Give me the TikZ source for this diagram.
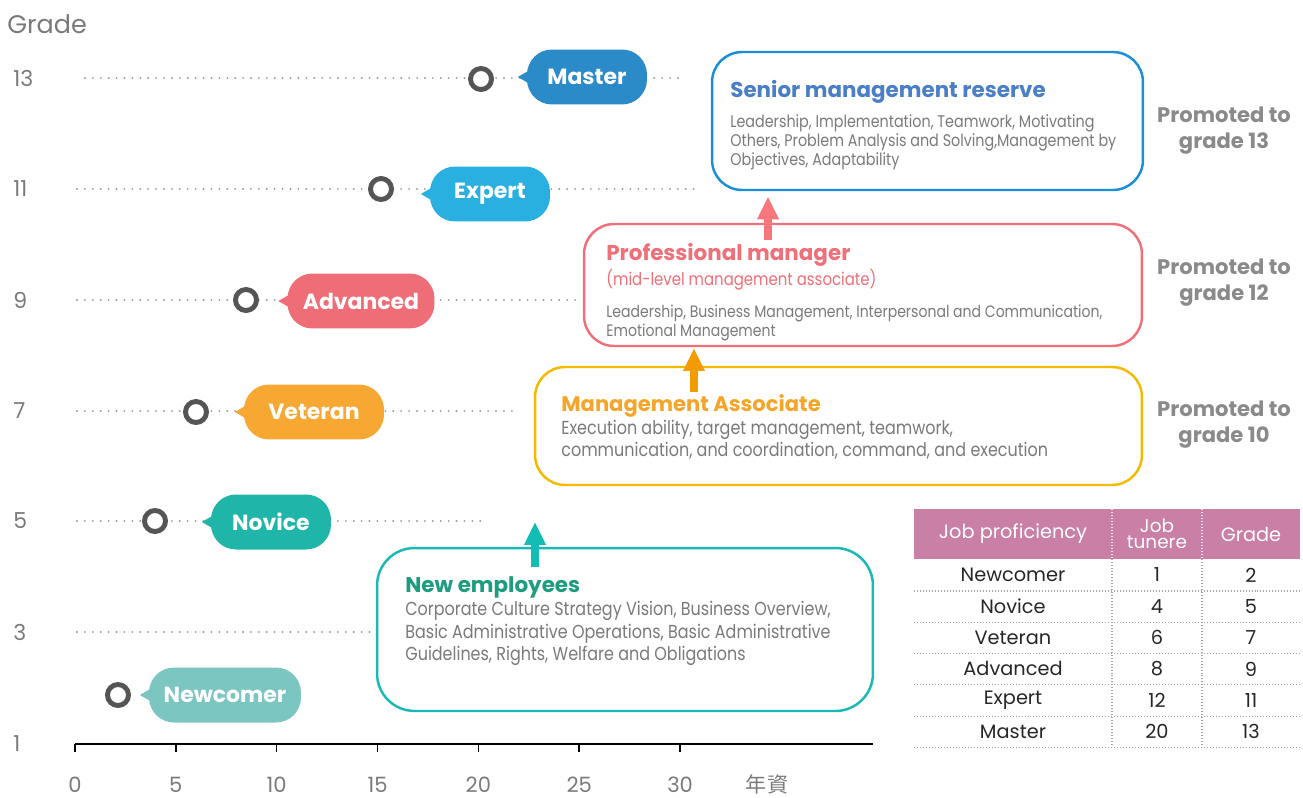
\documentclass[tikz,border=0pt]{standalone}
\usepackage{fontspec}
\setmainfont{Poppins}
\newfontfamily\narrowfont[FakeStretch=0.85]{Poppins}
\newfontfamily\cjkfont{Noto Sans CJK TC}
\usetikzlibrary{arrows.meta,positioning}
\definecolor{masterblue}{HTML}{2A8BC8}
\definecolor{expertblue}{HTML}{29AFE0}
\definecolor{advred}{HTML}{EF6D76}
\definecolor{vetorange}{HTML}{F6A832}
\definecolor{novteal}{HTML}{1FB5A9}
\definecolor{newteal}{HTML}{7CC6C2}
\definecolor{ringgray}{HTML}{555555}
\definecolor{dotgray}{HTML}{9A9A9A}
\definecolor{textgray}{HTML}{7A7A7A}
\definecolor{srmblue}{HTML}{1B8FD5}
\definecolor{srmtitle}{HTML}{4A7EC6}
\definecolor{pmred}{HTML}{F06F78}
\definecolor{magold}{HTML}{F5B900}
\definecolor{matitle}{HTML}{F5A62A}
\definecolor{nestroke}{HTML}{18B9B6}
\definecolor{netitle}{HTML}{1C9D7F}
\definecolor{tablehead}{HTML}{C97FA6}
\definecolor{promogray}{HTML}{8A8A8A}
\definecolor{arrowred}{HTML}{F8777C}
\definecolor{arroworange}{HTML}{F39C00}
\definecolor{arrowteal}{HTML}{13BDB3}

\begin{document}
\begin{tikzpicture}[x=0.02cm, y=-0.02cm,
  gridline/.style={draw=dotgray, line width=1.2pt, dash pattern=on 0pt off 4.5pt, line cap=round},
  ring/.style={circle, draw=ringgray, line width=2.8pt, fill=white, minimum size=0.42cm, inner sep=0pt},
  bubble/.style={rounded corners=0.5cm, minimum height=1.1cm, inner sep=0pt, text=white,
    font=\bfseries\fontsize{12.5}{14}\selectfont},
  box/.style={draw, line width=1.4pt, rounded corners=0.6cm, fill=white},
  title/.style={anchor=north west, inner sep=0pt, font=\bfseries\fontsize{12.2}{14}\selectfont},
  body/.style={anchor=north west, inner sep=0pt, align=left, text=textgray},
  promo/.style={align=center, text=promogray, font=\bfseries\fontsize{12}{14.7}\selectfont},
  axlabel/.style={text=textgray, inner sep=0pt, font=\fontsize{12.5}{14}\selectfont},
  tcell/.style={font=\fontsize{11}{13}\selectfont, text=black!85},
  tsep/.style={draw=gray!70, line width=0.6pt, dash pattern=on 0.5pt off 1.2pt},
  arr/.style={-{Triangle[width=11.5pt,length=13pt]}, line width=4.6pt}]
\useasboundingbox (0,0) rectangle (1303,798);

\node[axlabel, anchor=west, font=\fontsize{14.5}{16}\selectfont] (gradelbl) at (7,24) {Grade};
\foreach \g/\y in {13/78, 11/189, 9/300, 7/411, 5/521, 3/632, 1/744}
  \node[axlabel, anchor=west] (g\g) at (13,\y) {\g};

\foreach \xa/\xb/\y in {85/685/78, 77/697/189, 77/583/300, 77/518/411, 77/487/521, 77/375/632}
  \draw[gridline] (\xa,\y) -- (\xb,\y);

\draw[black, line width=0.9pt] (75,744) -- (873,744);
\foreach \v in {0,5,...,30} {
  \draw[black, line width=0.9pt] ({75+\v*20.17},744) -- ({75+\v*20.17},752);
  \node[axlabel, font=\fontsize{12}{14}\selectfont] (t\v) at ({75+\v*20.17},785) {\v};
}
\node[axlabel, font=\cjkfont\fontsize{12}{14}\selectfont] (years) at (767,784) {年資};

\foreach \nm/\lbl/\col/\bx/\by/\w/\rx/\ry in {
  master/Master/masterblue/587/77/2.4/481/79,
  expert/Expert/expertblue/490/194/2.4/381/189,
  advanced/Advanced/advred/361/301/2.94/246/300,
  veteran/Veteran/vetorange/314/412/2.8/196/412,
  novice/Novice/novteal/271/522/2.4/155/521,
  newcomer/Newcomer/newteal/225/695/3.04/118/695} {
  \node[ring] (ring-\nm) at (\rx,\ry) {};
  \node[bubble, fill=\col, minimum width=\w cm] (\nm) at (\bx,\by) {\lbl};
  \fill[\col] ([xshift=1pt,yshift=3.5pt]\nm.west) -- ++(-6pt,-3.5pt) -- ++(6pt,-3.5pt) -- cycle;
}

\node[box, draw=srmblue, minimum width=8.62cm, minimum height=2.76cm] (srm) at (927.5,121) {};
\node[box, draw=pmred, minimum width=11.16cm, minimum height=2.44cm] (pm) at (863,285) {};
\node[box, draw=magold, minimum width=12.14cm, minimum height=2.36cm] (ma) at (838.5,426) {};
\node[box, draw=nestroke, minimum width=9.92cm, minimum height=3.26cm, rounded corners=0.75cm] (ne) at (625,629.5) {};

\node[title, text=srmtitle] (srmT) at (730,80) {Senior management reserve};
\node[body, font=\narrowfont\fontsize{9.6}{10.8}\selectfont] (srmB) at (730,114)
  {Leadership, Implementation, Teamwork, Motivating\\Others, Problem Analysis and Solving,Management by\\Objectives, Adaptability};
\node[title, text=pmred] (pmT) at (606,243) {Professional manager};
\node[body, text=pmred, font=\narrowfont\fontsize{10}{12}\selectfont] (pmS) at (606,269) {(mid-level management associate)};
\node[body, font=\narrowfont\fontsize{9.4}{10.8}\selectfont] (pmB) at (606,305)
  {Leadership, Business Management, Interpersonal and Communication,\\Emotional Management};
\node[title, text=matitle, font=\bfseries\fontsize{12}{14}\selectfont] (maT) at (561,394) {Management Associate};
\node[body, font=\narrowfont\fontsize{10.7}{12.5}\selectfont] (maB) at (561,420)
  {Execution ability, target management, teamwork,\\communication, and coordination, command, and execution};
\node[title, text=netitle] (neT) at (405,576) {New employees};
\node[body, font=\narrowfont\fontsize{10.7}{12.8}\selectfont] (neB) at (405,601)
  {Corporate Culture Strategy Vision, Business Overview,\\Basic Administrative Operations, Basic Administrative\\Guidelines, Rights, Welfare and Obligations};

\coordinate (pmA) at (768,240);
\coordinate (maA) at (694,392);
\coordinate (neA) at (535,567);
\draw[arr, arrowred, shorten >=3pt] (pmA) -- (srm.south -| pmA);
\draw[arr, arroworange, shorten >=0.5pt] (maA) -- (pm.south -| maA);
\draw[arr, arrowteal] (neA) -- (535,522);

\node[promo] (p13) at (1224,131) {Promoted to\\grade 13};
\node[promo] (p12) at (1224,283) {Promoted to\\grade 12};
\node[promo] (p10) at (1224,425) {Promoted to\\grade 10};

\node[fill=tablehead, minimum width=7.72cm, minimum height=1cm, inner sep=0pt] (thead) at (1107,534) {};
\node[tcell, text=white] (h1) at (1013,534) {Job proficiency};
\node[tcell, text=white, align=center, font=\fontsize{10.5}{9}\selectfont] (h2) at (1157,534) {Job\\tunere};
\node[tcell, text=white] (h3) at (1251,534) {Grade};
\foreach \nm/\yr/\gr [count=\i from 0] in {Newcomer/1/2, Novice/4/5, Veteran/6/7, Advanced/8/9, Expert/12/11, Master/20/13} {
  \node[tcell] (c1-\i) at (1013,{575+31.3*\i}) {\nm};
  \node[tcell] (c2-\i) at (1157,{575+31.3*\i}) {\yr};
  \node[tcell] (c3-\i) at (1251,{575+31.3*\i}) {\gr};
  \draw[tsep] (914,{591+31.3*\i}) -- (1300,{591+31.3*\i});
}
\draw[tsep] (1112,559) -- (1112,747);
\draw[tsep] (1202,559) -- (1202,747);
\draw[tsep, draw=white!80!tablehead] (1112,509) -- (1112,559);
\draw[tsep, draw=white!80!tablehead] (1202,509) -- (1202,559);
\end{tikzpicture}
\end{document}
